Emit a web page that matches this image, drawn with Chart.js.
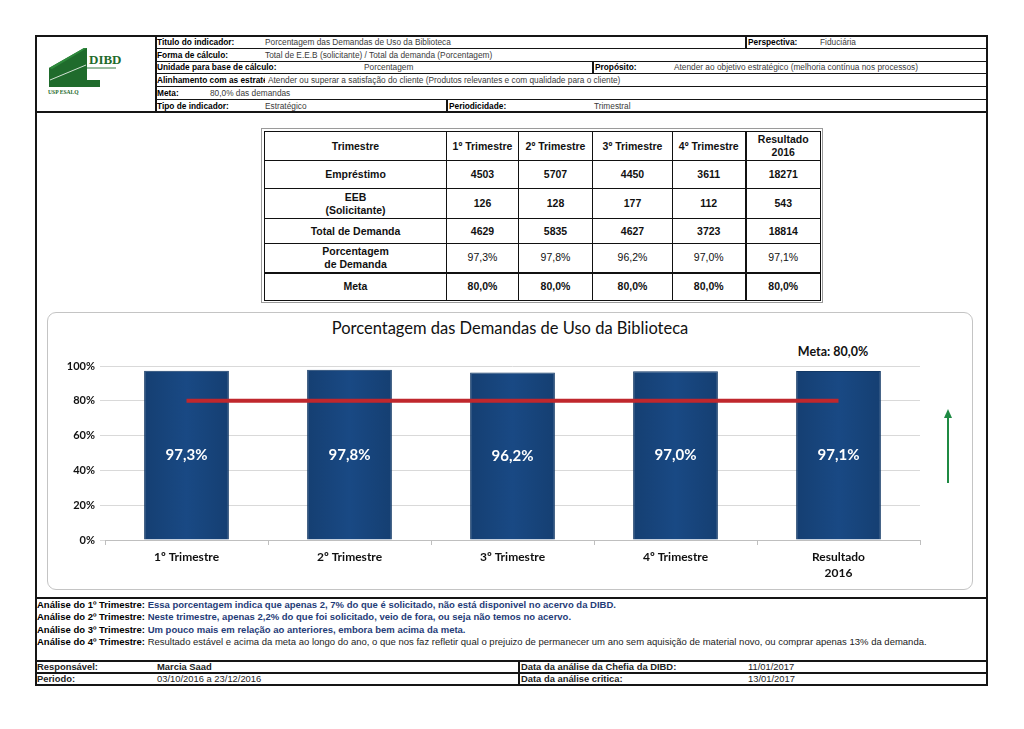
<!DOCTYPE html>
<html>
<head>
<meta charset="utf-8">
<script src="https://cdn.jsdelivr.net/npm/chart.js@4/dist/chart.umd.min.js"></script>
<style>
  body { margin: 0; background: #fff; width: 1024px; height: 729px; position: relative; overflow: hidden; font-family: 'Liberation Sans', Arial, sans-serif; }
  .ln { position: absolute; background: #151515; }
  .t { position: absolute; white-space: nowrap; font-size: 8.3px; line-height: 12px; color: #3a3a3a; }
  .b { font-weight: bold; color: #000; }
  .an { position: absolute; left: 37px; white-space: nowrap; font-size: 9.5px; line-height: 12px; font-weight: bold; color: #000; }
  .an span { color: #1f3c78; }
  .an span.n { color: #222; font-weight: normal; }
  .ft { position: absolute; white-space: nowrap; font-size: 9.4px; line-height: 12px; color: #222; }
  #tbl { position: absolute; left: 264px; top: 131px; border-collapse: collapse; table-layout: fixed; }
  #tbl td { border: 1px solid #111; text-align: center; font-size: 10.5px; line-height: 13px; font-weight: bold; padding: 0; color: #111; }
  #tbl td.r { font-weight: normal; }
  #chartBox { position: absolute; left: 47px; top: 312px; width: 924px; height: 276px; border: 1px solid #c4c4c4; border-radius: 9px; }
  #chartWrap { position: absolute; left: 47px; top: 312px; width: 926px; height: 278px; }
  #title { position: absolute; left: 47px; width: 926px; top: 318px; text-align: center; font-family: Lato, sans-serif; font-size: 16.5px; color: #111; }
  #metaTxt { position: absolute; left: 793px; width: 80px; top: 344px; text-align: center; font-family: Lato, sans-serif; font-weight: bold; font-size: 12.5px; color: #111; }
</style>
</head>
<body>

<!-- frame lines -->
<div class="ln" style="left:35px;top:35px;width:953px;height:1.5px"></div>
<div class="ln" style="left:155px;top:47.5px;width:833px;height:1.5px"></div>
<div class="ln" style="left:155px;top:60.5px;width:833px;height:1.5px"></div>
<div class="ln" style="left:155px;top:72.5px;width:833px;height:1.5px"></div>
<div class="ln" style="left:155px;top:85.5px;width:833px;height:1.5px"></div>
<div class="ln" style="left:155px;top:98.5px;width:833px;height:1.5px"></div>
<div class="ln" style="left:35px;top:111px;width:953px;height:1.5px"></div>
<div class="ln" style="left:35px;top:597px;width:953px;height:1.5px"></div>
<div class="ln" style="left:35px;top:660px;width:953px;height:1.5px"></div>
<div class="ln" style="left:35px;top:672px;width:953px;height:1.5px"></div>
<div class="ln" style="left:35px;top:684px;width:953px;height:1.5px"></div>
<div class="ln" style="left:35px;top:35px;width:1.5px;height:651px"></div>
<div class="ln" style="left:986px;top:35px;width:1.5px;height:651px"></div>
<div class="ln" style="left:155px;top:35px;width:1.5px;height:77px"></div>
<div class="ln" style="left:745px;top:35px;width:1.5px;height:13px"></div>
<div class="ln" style="left:592px;top:60.5px;width:1.5px;height:13px"></div>
<div class="ln" style="left:446px;top:98.5px;width:1.5px;height:13px"></div>
<div class="ln" style="left:518px;top:660px;width:1.5px;height:25px"></div>

<!-- logo -->
<svg style="position:absolute;left:36px;top:36px" width="118" height="74" viewBox="0 0 118 74">
  <polygon points="13,32 48,12 51,12 51,44 64,44 64,51 13,51" fill="#1f6b2c"/>
  <polygon points="13,32 48,12 51,12 16,33" fill="#2e8a3c"/>
  <line x1="14" y1="44" x2="50" y2="29" stroke="#fff" stroke-width="0.8"/>
  <line x1="51" y1="32" x2="80" y2="32" stroke="#1f6b2c" stroke-width="0.9"/>
  <text x="53" y="28" font-family="Liberation Serif, serif" font-weight="bold" font-size="13" fill="#1f6b2c">DIBD</text>
  <text x="12" y="58" font-family="Liberation Serif, serif" font-weight="bold" font-size="5.6" fill="#1f6b2c">USP ESALQ</text>
</svg>

<!-- header texts -->
<div class="t b" style="left:157px;top:35.5px">Titulo do indicador:</div>
<div class="t" style="left:265px;top:35.5px">Porcentagem das Demandas de Uso da Biblioteca</div>
<div class="t b" style="left:748px;top:35.5px">Perspectiva:</div>
<div class="t" style="left:820px;top:35.5px">Fiduciária</div>
<div class="t b" style="left:157px;top:48.5px">Forma de cálculo:</div>
<div class="t" style="left:265px;top:48.5px">Total de E.E.B (solicitante) / Total da demanda (Porcentagem)</div>
<div class="t b" style="left:157px;top:61px">Unidade para base de cálculo:</div>
<div class="t" style="left:364px;top:61px">Porcentagem</div>
<div class="t b" style="left:595px;top:61px">Propósito:</div>
<div class="t" style="left:674px;top:61px">Atender ao objetivo estratégico (melhoria contínua nos processos)</div>
<div class="t b" style="left:157px;top:73.5px;width:108px;overflow:hidden">Alinhamento com as estratégias:</div>
<div class="t" style="left:268px;top:73.5px">Atender ou superar a satisfação do cliente (Produtos relevantes e com qualidade para o cliente)</div>
<div class="t b" style="left:157px;top:86.5px">Meta:</div>
<div class="t" style="left:210px;top:86.5px">80,0% das demandas</div>
<div class="t b" style="left:157px;top:99.5px">Tipo de indicador:</div>
<div class="t" style="left:265px;top:99.5px">Estratégico</div>
<div class="t b" style="left:449px;top:99.5px">Periodicidade:</div>
<div class="t" style="left:594px;top:99.5px">Trimestral</div>

<!-- data table -->
<div style="position:absolute;left:261px;top:128px;width:560px;height:173px;border:1px solid #9a9a9a"></div>
<table id="tbl"></table>

<!-- chart -->
<div id="chartBox"></div>
<div id="title">Porcentagem das Demandas de Uso da Biblioteca</div>
<div id="metaTxt">Meta: 80,0%</div>
<div id="chartWrap"><canvas id="indChart"></canvas></div>
<svg style="position:absolute;left:938px;top:405px" width="20" height="82">
  <line x1="10" y1="78" x2="10" y2="10" stroke="#1f8a43" stroke-width="2"/>
  <polygon points="6,13 14,13 10,4" fill="#1f8a43"/>
</svg>

<!-- analysis -->
<div class="an" style="top:599px">Análise do 1º Trimestre: <span>Essa porcentagem indica que apenas 2, 7% do que é solicitado, não está disponivel no acervo da DIBD.</span></div>
<div class="an" style="top:611px">Análise do 2º Trimestre: <span>Neste trimestre, apenas 2,2% do que foi solicitado, veio de fora, ou seja não temos no acervo.</span></div>
<div class="an" style="top:624px">Análise do 3º Trimestre: <span>Um pouco mais em relação ao anteriores, embora bem acima da meta.</span></div>
<div class="an" style="top:636px">Análise do 4º Trimestre: <span class="n">Resultado estável e acima da meta ao longo do ano, o que nos faz refletir qual o prejuizo de permanecer um ano sem aquisição de material novo, ou comprar apenas 13% da demanda.</span></div>

<!-- footer -->
<div class="ft b" style="left:37px;top:660.5px">Responsável:</div>
<div class="ft b" style="left:157px;top:660.5px">Marcia Saad</div>
<div class="ft b" style="left:521px;top:660.5px">Data da análise da Chefia da DIBD:</div>
<div class="ft" style="left:748px;top:660.5px">11/01/2017</div>
<div class="ft b" style="left:37px;top:672.5px">Periodo:</div>
<div class="ft" style="left:157px;top:672.5px">03/10/2016 a 23/12/2016</div>
<div class="ft b" style="left:521px;top:672.5px">Data da análise critica:</div>
<div class="ft" style="left:748px;top:672.5px">13/01/2017</div>

<script>
// dados do indicador
const trimestres = ['1º Trimestre', '2º Trimestre', '3º Trimestre', '4º Trimestre', 'Resultado 2016'];
const chartLabels = [['1º Trimestre'], ['2º Trimestre'], ['3º Trimestre'], ['4º Trimestre'], ['Resultado', '2016']];
const emprestimo = [4503, 5707, 4450, 3611, 18271];
const eeb = [126, 128, 177, 112, 543];
const totalDemanda = [4629, 5835, 4627, 3723, 18814];
const porcentagem = [97.3, 97.8, 96.2, 97.0, 97.1];
const meta = [80, 80, 80, 80, 80];

function pct(v) {
  return v.toFixed(1).replace('.', ',') + '%';
}

// monta a tabela
const colW = [182, 72, 74, 80, 73, 75];
const rowH = [29, 28, 30, 25, 29, 28];
const rows = [
  { label: 'Trimestre', vals: trimestres.map(function (t) { return t === 'Resultado 2016' ? 'Resultado<br>2016' : t; }) },
  { label: 'Empréstimo', vals: emprestimo },
  { label: 'EEB<br>(Solicitante)', vals: eeb },
  { label: 'Total de Demanda', vals: totalDemanda },
  { label: 'Porcentagem<br>de Demanda', vals: porcentagem.map(pct), cls: 'r' },
  { label: 'Meta', vals: meta.map(pct) }
];
const tbl = document.getElementById('tbl');
tbl.style.width = colW.reduce(function (a, b) { return a + b; }) + 'px';
let html = '<colgroup>' + colW.map(function (w) { return '<col style="width:' + w + 'px">'; }).join('') + '</colgroup>';
rows.forEach(function (r, i) {
  html += '<tr style="height:' + rowH[i] + 'px">';
  html += '<td' + (i === 4 ? ' style="border-bottom:2.5px solid #111"' : '') + '>' + r.label + '</td>';
  r.vals.forEach(function (v, j) {
    let st = '';
    if (j === 3) st += 'border-right:2.5px solid #111;';
    if (i === 4) st += 'border-bottom:2.5px solid #111;';
    html += '<td class="' + (r.cls || '') + '" style="' + st + '">' + v + '</td>';
  });
  html += '</tr>';
});
tbl.innerHTML = html;

// rótulos dentro das barras
const barLabels = {
  id: 'barLabels',
  afterDatasetsDraw(chart) {
    const c = chart.ctx;
    const m = chart.getDatasetMeta(1);
    c.save();
    c.fillStyle = '#fff';
    c.font = 'bold 15px Lato';
    c.textAlign = 'center';
    c.textBaseline = 'middle';
    m.data.forEach(function (el, i) {
      c.fillText(pct(porcentagem[i]), el.x, (el.y + el.base) / 2);
    });
    c.restore();
  }
};

// degradê horizontal das barras
function barFill(c) {
  const xs = c.chart.scales.x;
  if (!xs || !c.chart.chartArea) return '#174782';
  const cx = xs.getPixelForValue(c.dataIndex);
  const w = xs.width / chartLabels.length * 0.52;
  if (!isFinite(cx) || !isFinite(w) || w <= 0) return '#174782';
  const g = c.chart.ctx.createLinearGradient(cx - w / 2, 0, cx + w / 2, 0);
  g.addColorStop(0, '#153f72');
  g.addColorStop(0.5, '#194984');
  g.addColorStop(1, '#153f72');
  return g;
}

const ctx = document.getElementById('indChart').getContext('2d');
const indChart = new Chart(ctx, {
  type: 'bar',
  data: {
    labels: chartLabels,
    datasets: [{
      type: 'line',
      label: 'Meta',
      data: meta,
      borderColor: '#c0272d',
      borderWidth: 4,
      pointRadius: 0,
      order: 0
    }, {
      label: 'Porcentagem',
      data: porcentagem,
      backgroundColor: barFill,
      borderColor: '#123865',
      borderWidth: 1,
      categoryPercentage: 1,
      barPercentage: 0.52,
      order: 1
    }]
  },
  options: {
    responsive: true,
    maintainAspectRatio: false,
    animation: false,
    layout: { padding: { top: 54, right: 53, bottom: 0, left: 0 } },
    plugins: {
      legend: { display: false },
      tooltip: { enabled: false }
    },
    scales: {
      x: {
        afterFit: function (s) { s.height = 50; },
        grid: { offset: true, drawOnChartArea: false, tickLength: 5, color: '#bfbfbf' },
        border: { color: '#bfbfbf' },
        ticks: { color: '#111', padding: 4, font: { family: 'Lato', weight: 'bold', size: 12, lineHeight: 1.35 } }
      },
      y: {
        min: 0,
        max: 100,
        afterFit: function (s) { s.width = 58; },
        grid: { color: '#d9d9d9', tickLength: 5 },
        border: { display: false },
        ticks: {
          stepSize: 20,
          padding: 5,
          color: '#111',
          font: { family: 'Lato', weight: 'bold', size: 11 },
          callback: function (v) { return v + '%'; }
        }
      }
    }
  },
  plugins: [barLabels]
});
</script>
</body>
</html>
